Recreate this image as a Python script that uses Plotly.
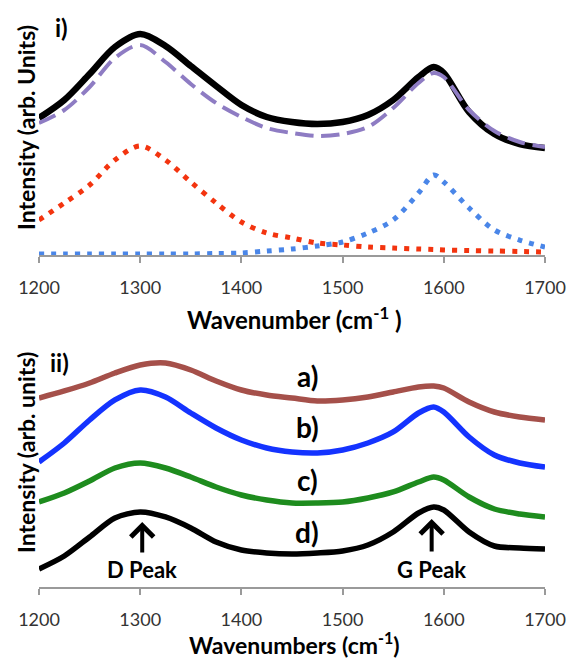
import plotly.graph_objects as go

# ---------------- data ----------------
wn = [1200, 1225, 1250, 1275, 1300, 1325, 1350, 1375, 1400, 1425, 1450,
      1475, 1500, 1525, 1550, 1575, 1590, 1600, 1625, 1650, 1675, 1700]

# panel i)
top_measured = [137, 155, 181, 208, 221, 209, 189, 169, 150, 138, 133,
                131, 133, 140, 155, 178, 188, 182, 143, 121, 111, 107]
top_fit = [132, 145, 168, 197, 210, 193, 171, 152, 138, 127, 122,
           119, 121, 128, 147, 172, 182, 178, 145, 124, 113, 108]
top_d_peak = [35, 52, 70, 95, 109, 95, 73, 52, 33, 22, 17,
              12, 10, 8, 7, 6, 5.5, 5, 4.5, 4, 3.5, 3]
top_g_peak = [1, 1, 1, 1, 1, 1, 1, 1.5, 2, 4, 6,
              9, 13, 22, 35, 62, 80, 73, 47, 25, 15, 8]

# panel ii)
spec_a = [189, 196, 204, 214, 222, 224, 217, 206, 197, 192, 189,
          186, 187, 190, 195, 200, 201, 199, 185, 175, 170, 167]
spec_b = [125, 144, 167, 187, 197, 190, 174, 159, 147, 139, 135,
          134, 137, 144, 155, 174, 180, 175, 150, 132, 124, 120]
spec_c = [85, 94, 106, 119, 124, 119, 110, 100, 92, 87, 84,
          84, 85, 89, 95, 105, 110, 107, 90, 78, 73, 70]
spec_d = [18, 31, 50, 69, 75, 70, 59, 45, 37, 34, 33,
          34, 36, 42, 55, 74, 80, 77, 55, 41, 39, 38]

spec_labels = ["a)", "b)", "c)", "d)"]
spec_label_y = [211, 160, 107, 55]
label_x = 1465

peak_names = ["D Peak", "G Peak"]
peak_pos = [1302, 1588]
peak_tip = [65, 68]
peak_tail = [33, 34]
peak_text_y = [17, 17]

ticks = [1200, 1300, 1400, 1500, 1600, 1700]

FONT = "Lato"

fig = go.Figure()

# panel i traces
fig.add_trace(go.Scatter(x=wn, y=top_d_peak, mode="lines", line=dict(color="#f3340f", width=5, dash="5px,7px", shape="spline", smoothing=0.9), xaxis="x", yaxis="y"))
fig.add_trace(go.Scatter(x=wn, y=top_g_peak, mode="lines", line=dict(color="#4a86e8", width=5, dash="5px,7px", shape="spline", smoothing=0.9), xaxis="x", yaxis="y"))
fig.add_trace(go.Scatter(x=wn, y=top_measured, mode="lines", line=dict(color="#000000", width=6.5, shape="spline", smoothing=0.9), xaxis="x", yaxis="y"))
fig.add_trace(go.Scatter(x=wn, y=top_fit, mode="lines", line=dict(color="#8e7cc3", width=4, dash="18px,8px", shape="spline", smoothing=0.9), xaxis="x", yaxis="y"))

# panel ii traces
colors = ["#a5504a", "#1433ff", "#1e8c1e", "#000000"]
for ys, c in zip([spec_a, spec_b, spec_c, spec_d], colors):
    fig.add_trace(go.Scatter(x=wn, y=ys, mode="lines", line=dict(color=c, width=5.5, shape="spline", smoothing=0.8), xaxis="x2", yaxis="y2"))

axis_common = dict(range=[1200, 1700], tickvals=ticks, showline=True, linecolor="#9a9a9a", linewidth=1.5,
                   ticks="outside", ticklen=6, tickcolor="#9a9a9a", tickwidth=1.5, showgrid=False, zeroline=False,
                   tickfont=dict(family=FONT, size=18, color="#333333"), ticklabelstandoff=10,
                   fixedrange=True, automargin=False)

fig.update_layout(
    width=570, height=660,
    margin=dict(l=39, r=25, t=15, b=73, autoexpand=False),
    paper_bgcolor="white", plot_bgcolor="white",
    showlegend=False,
    xaxis=dict(anchor="y", **axis_common),
    yaxis=dict(domain=[0.5804, 1.0], range=[0, 240], visible=False, automargin=False),
    xaxis2=dict(anchor="y2", **axis_common),
    yaxis2=dict(domain=[0.0, 0.4231], range=[0, 242], visible=False, automargin=False),
)

def py(p):
    return (587 - p) / 572

def px(p):
    return (p - 39) / 506

ann = []
c = dict(xanchor="center", yanchor="middle", showarrow=False)
# axis titles
ann.append(dict(text="<b>Intensity (arb. Units)</b>", xref="paper", yref="paper", x=px(26), y=py(128), textangle=-90,
                font=dict(family=FONT, size=23, color="black"), **c))
ann.append(dict(text="<b>Intensity (arb. units)</b>", xref="paper", yref="paper", x=px(26), y=py(453), textangle=-90,
                font=dict(family=FONT, size=23, color="black"), **c))
ann.append(dict(text="<b>Wavenumber (cm<sup>-1</sup> )</b>", xref="paper", yref="paper", x=px(294), y=py(318),
                font=dict(family=FONT, size=24, color="black"), **c))
ann.append(dict(text="<b>Wavenumbers (cm<sup>-1</sup>)</b>", xref="paper", yref="paper", x=px(294), y=py(643),
                font=dict(family=FONT, size=23, color="black"), **c))
# panel labels
ann.append(dict(text="<b>i)</b>", xref="paper", yref="paper", x=px(61), y=py(28),
                font=dict(family=FONT, size=24, color="black"), **c))
ann.append(dict(text="<b>ii)</b>", xref="paper", yref="paper", x=px(59), y=py(363),
                font=dict(family=FONT, size=24, color="black"), **c))
# spectrum labels
for t, yv in zip(spec_labels, spec_label_y):
    ann.append(dict(text="<b>" + t + "</b>", xref="x2", yref="y2", x=label_x, y=yv,
                    font=dict(family=FONT, size=28, color="black"), **c))
# peak arrows
for name, xp, tip, tail, ty in zip(peak_names, peak_pos, peak_tip, peak_tail, peak_text_y):
    ann.append(dict(text="", xref="x2", yref="y2", x=xp, y=tip, axref="x2", ayref="y2", ax=xp, ay=tail,
                    showarrow=True, arrowhead=4, arrowsize=1.1, arrowwidth=4, arrowcolor="black", standoff=0))
    ann.append(dict(text="<b>" + name + "</b>", xref="x2", yref="y2", x=xp, y=ty,
                    font=dict(family=FONT, size=22, color="black"), **c))

fig.update_layout(annotations=ann)
fig.write_html("out.html")
